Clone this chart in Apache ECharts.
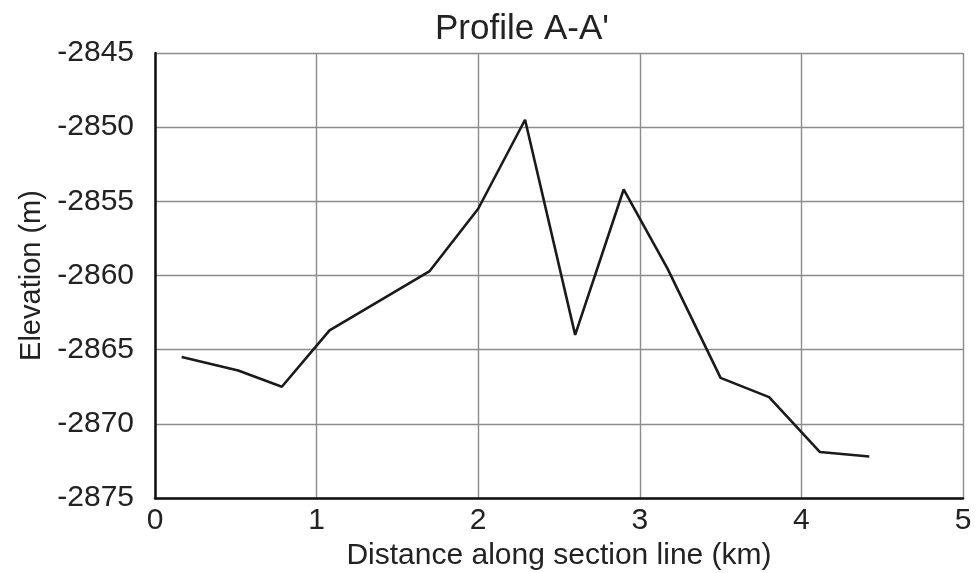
<!DOCTYPE html>
<html>
<head>
<meta charset="utf-8">
<script src="https://cdn.jsdelivr.net/npm/echarts@6/dist/echarts.min.js"></script>
<style>
  html, body { margin: 0; padding: 0; background: #fff; }
  #chart { width: 978px; height: 573px; }
</style>
</head>
<body>
<div id="chart"></div>
<script>
// distance along section (km) and elevation (m)
var distanceKm = [0.165, 0.515, 0.785, 1.08, 1.70, 2.00, 2.29, 2.60, 2.90, 3.17, 3.50, 3.80, 4.115, 4.42]
var elevationM = [-2865.5, -2866.4, -2867.5, -2863.7, -2859.7, -2855.5, -2849.5, -2864.0, -2854.2, -2859.5, -2866.9, -2868.2, -2871.9, -2872.2]

var points = distanceKm.map(function (d, i) { return [d, elevationM[i]] })

var font = '"Liberation Sans", Arial, sans-serif'
var myEcharts = echarts.init(document.getElementById('chart'))

myEcharts.setOption({
  animation: false,
  title: {
    text: "Profile A-A'",
    left: 517,
    textAlign: 'center',
    top: 7,
    textStyle: { fontFamily: font, fontSize: 35, fontWeight: 'normal', color: '#222' }
  },
  grid: { left: 155, right: 15, top: 53, bottom: 75, outerBoundsMode: 'none' },
  xAxis: {
    type: 'value',
    min: 0,
    max: 5,
    interval: 1,
    name: 'Distance along section line (km)',
    nameLocation: 'middle',
    nameGap: 26,
    nameTextStyle: { fontFamily: font, fontSize: 30, color: '#222' },
    axisLine: { show: true, lineStyle: { color: '#111', width: 2.5 } },
    axisTick: { show: false },
    axisLabel: { fontFamily: font, fontSize: 30, color: '#222', margin: 8 },
    splitLine: { show: true, lineStyle: { color: '#8c8c8c', width: 1.4 } }
  },
  yAxis: {
    type: 'value',
    min: -2875,
    max: -2845,
    interval: 5,
    name: 'Elevation (m)',
    nameLocation: 'middle',
    nameGap: 107,
    nameTextStyle: { fontFamily: font, fontSize: 29, color: '#222' },
    axisLine: { show: true, lineStyle: { color: '#111', width: 2.5 } },
    axisTick: { show: false },
    axisLabel: {
      fontFamily: font, fontSize: 30, color: '#222', margin: 21,
      padding: [7, 0, 0, 0],
      formatter: function (v) { return String(v) }
    },
    splitLine: { show: true, lineStyle: { color: '#8c8c8c', width: 1.4 } }
  },
  series: [{
    type: 'line',
    data: points,
    symbol: 'none',
    lineStyle: { color: '#1a1a1a', width: 2.6 }
  }]
})
</script>
</body>
</html>
